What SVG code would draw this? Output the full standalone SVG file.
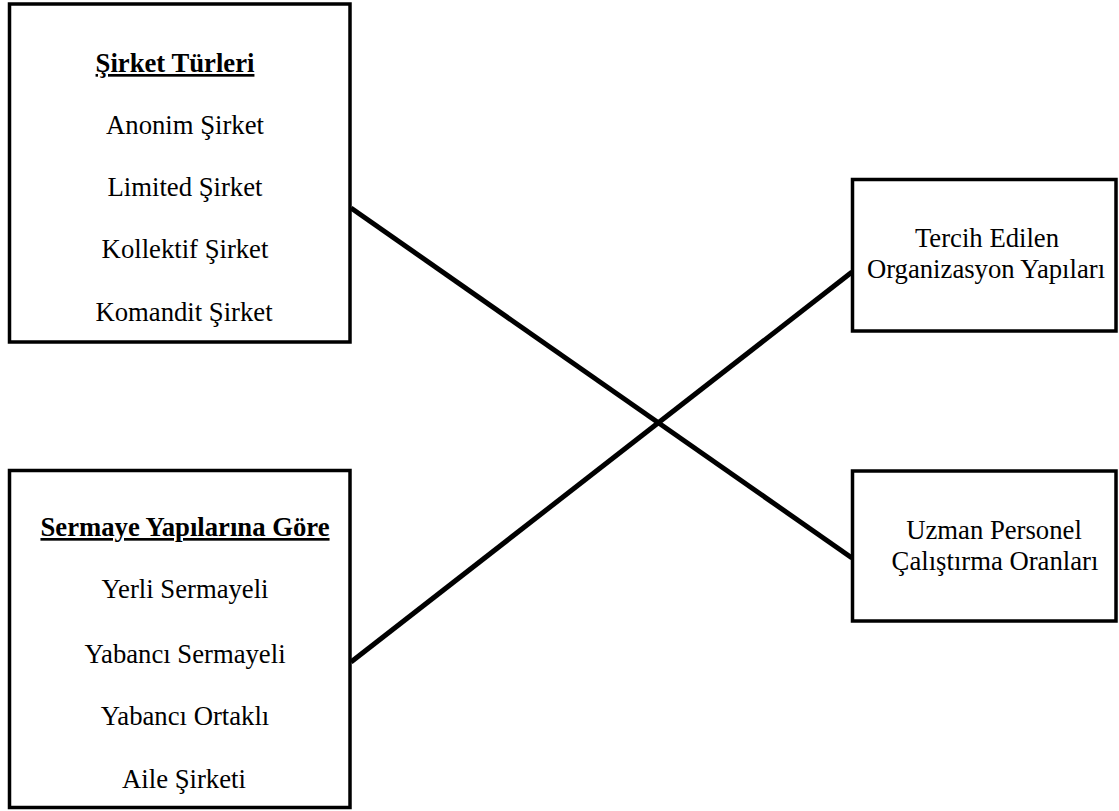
<svg xmlns="http://www.w3.org/2000/svg" width="1119" height="811" viewBox="0 0 1119 811">
<style>
.box{fill:#fff;stroke:#000;stroke-width:3.5}
.t{font-family:"Liberation Serif","Times New Roman",serif;font-size:26.7px;fill:#000;text-anchor:middle}
.h{font-weight:bold;text-decoration:underline}
.c{stroke:#000;stroke-width:5;fill:none}
</style>
<rect width="1119" height="811" fill="#fff"/>
<g id="connectors">
<line class="c" x1="351" y1="208" x2="852" y2="558"/>
<line class="c" x1="351" y1="662" x2="852" y2="272"/>
</g>
<g id="sirket-turleri">
<rect class="box" x="9.5" y="4" width="340.5" height="338"/>
<text class="t h" x="175" y="72">Şirket Türleri</text>
<text class="t" x="185" y="134">Anonim Şirket</text>
<text class="t" x="185" y="196">Limited Şirket</text>
<text class="t" x="185" y="258">Kollektif Şirket</text>
<text class="t" x="184" y="321">Komandit Şirket</text>
</g>
<g id="sermaye-yapilari">
<rect class="box" x="9.5" y="470.5" width="340.5" height="337"/>
<text class="t h" x="185" y="536">Sermaye Yapılarına Göre</text>
<text class="t" x="185" y="598">Yerli Sermayeli</text>
<text class="t" x="185" y="663">Yabancı Sermayeli</text>
<text class="t" x="185" y="725">Yabancı Ortaklı</text>
<text class="t" x="184" y="788">Aile Şirketi</text>
</g>
<g id="organizasyon-yapilari">
<rect class="box" x="852.5" y="179.5" width="263.5" height="151.5"/>
<text class="t" x="987" y="247">Tercih Edilen</text>
<text class="t" x="986" y="278">Organizasyon Yapıları</text>
</g>
<g id="uzman-personel">
<rect class="box" x="852.5" y="471" width="263.5" height="150"/>
<text class="t" x="994" y="539">Uzman Personel</text>
<text class="t" x="995" y="570">Çalıştırma Oranları</text>
</g>
</svg>
